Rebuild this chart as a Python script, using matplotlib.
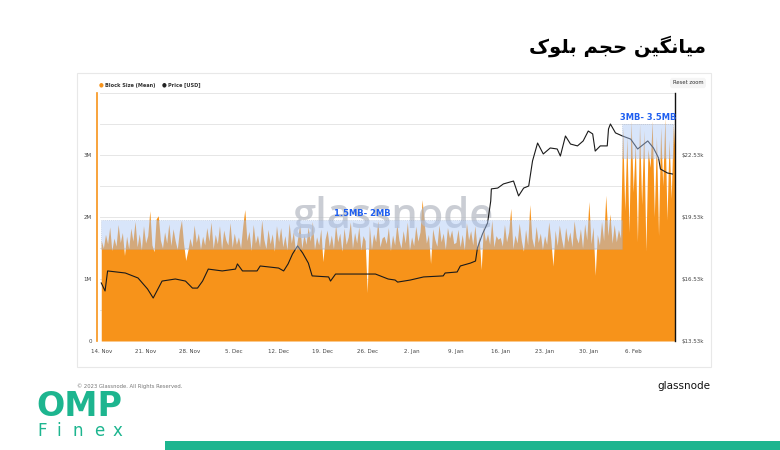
import numpy as np
import matplotlib.pyplot as plt
from matplotlib.patches import Rectangle

# block size (mean), MB, three samples per day starting 14 Nov
block_size = [
    1.62,1.50,1.72, 1.57,1.84,1.46, 1.66,1.53,1.88, 1.59,1.75,1.38, 1.69,1.49,1.82, 1.61,1.93,1.52, 1.73,1.47,1.86,
    1.58,1.70,2.10, 1.55,1.44,1.97, 2.02,1.63,1.50, 1.76,1.58,1.89, 1.54,1.81,1.62, 1.48,1.78,1.95, 1.57,1.30,1.46,
    1.66,1.52,1.87, 1.59,1.74,1.48, 1.69,1.55,1.83, 1.61,1.92,1.49, 1.72,1.57,1.86, 1.48,1.79,1.63, 1.55,1.91,1.51,
    1.74,1.56,1.68, 1.50,1.85,2.12, 1.62,1.77,1.46, 1.88,1.58,1.71, 1.52,1.95,1.64, 1.49,1.80,1.57, 1.73,1.45,1.86,
    1.60,1.83,1.52, 1.70,1.47,1.90, 1.58,1.76,1.45, 1.65,1.88,1.50, 1.72,1.56,1.84, 1.61,1.93,1.48, 1.68,1.55,1.81,
    1.28,1.64,1.79, 1.53,1.71,1.49, 1.87,1.60,1.74, 1.45,1.82,1.56, 1.68,1.92,1.50, 1.75,1.58,1.84, 1.47,1.70,1.62,
    0.78,1.86,1.48, 1.73,1.60,1.94, 1.52,1.66,1.69, 1.57,1.83,1.46, 1.71,1.55,1.89, 1.63,1.50,1.78, 1.58,1.92,1.47,
    1.68,1.54,1.85, 1.61,1.76,2.28, 1.90,1.58,1.72, 1.25,1.81,1.64, 1.53,1.87,1.60, 1.74,1.48,1.83, 1.66,1.79,1.57,
    1.59,1.80,1.52, 1.72,1.47,1.91, 1.63,1.78,1.55, 1.86,1.50,1.69, 1.15,1.84,1.61, 1.73,1.56,1.95, 1.52,1.70,1.64,
    1.67,1.53,1.88, 1.60,1.76,2.14, 1.49,1.71,1.58, 1.90,1.62,1.45, 1.80,1.55,2.20, 1.66,1.51,1.85, 1.59,1.74,1.48,
    1.70,1.56,1.92, 1.62,1.21,1.79, 1.54,1.87,1.65, 1.49,1.83,1.60, 1.76,1.52,1.94, 1.67,1.58,1.81, 1.50,1.89,1.63,
    2.25,1.57,1.84, 1.06,1.72,1.55, 1.93,1.62,2.35, 1.70,2.05,1.58, 1.88,1.60,1.80, 1.66,3.45,2.10, 3.30,1.75,3.55,
    2.40,3.20,1.60, 3.50,2.20,3.40, 1.45,3.10,2.80, 3.55,2.00,3.30, 1.70,3.45,2.50, 3.60,1.95,3.25, 2.30,3.50,2.90,
]
samples_per_day = 3

# BTC price, days since 14 Nov and USD thousands
price_day = [0, 0.6, 1.0, 3.8, 5.8, 7.3, 8.2, 9.6, 11.7, 13.3, 14.4, 15.2, 16.0, 16.9, 19.1, 21.2, 21.5,
             22.3, 24.6, 25.1, 28.0, 28.8, 29.5, 30.2, 31.0, 31.8, 32.7, 33.3, 35.9, 36.2, 37.0, 43.3,
             45.3, 46.4, 46.8, 48.8, 50.9, 54.0, 54.3, 56.2, 56.7, 58.3, 59.1, 59.4, 60.2, 61.0, 61.5,
             61.6, 62.6, 63.5, 65.1, 65.9, 66.7, 67.5, 68.1, 68.9, 69.8, 70.9, 72.0, 72.5, 73.3, 74.1,
             75.2, 76.1, 76.9, 77.6, 78.0, 78.8, 79.9, 80.1, 80.4, 81.2, 82.3, 83.6, 84.7, 86.3, 87.2,
             88.0, 88.3, 89.4, 90.2]
price_k = [16.34, 15.95, 16.92, 16.82, 16.58, 16.05, 15.61, 16.43, 16.53, 16.43, 16.09, 16.09, 16.43, 17.01,
           16.92, 17.01, 17.26, 16.92, 16.92, 17.16, 17.06, 16.92, 17.26, 17.74, 18.13, 17.79, 17.30, 16.68,
           16.63, 16.43, 16.77, 16.77, 16.53, 16.48, 16.38, 16.48, 16.63, 16.68, 16.82, 16.87, 17.16, 17.30,
           17.40, 18.03, 18.71, 19.24, 20.30, 20.89, 20.93, 21.13, 21.27, 20.55, 20.93, 21.03, 22.24, 23.11,
           22.58, 22.87, 22.82, 22.48, 23.45, 23.06, 22.97, 23.21, 23.69, 23.55, 22.72, 22.97, 22.97, 23.79,
           24.03, 23.60, 23.45, 23.30, 22.82, 23.21, 22.87, 22.39, 21.85, 21.66, 21.61]

tick_days = [0, 7, 14, 21, 28, 35, 42, 49, 56, 63, 70, 77, 84]
tick_labels = ["14. Nov", "21. Nov", "28. Nov", "5. Dec", "12. Dec", "19. Dec", "26. Dec",
               "2. Jan", "9. Jan", "16. Jan", "23. Jan", "30. Jan", "6. Feb"]
left_ticks = [0, 1, 2, 3]
left_labels = ["0", "1M", "2M", "3M"]
right_ticks = [13.53, 16.53, 19.53, 22.53]
right_labels = ["$13.53k", "$16.53k", "$19.53k", "$22.53k"]

# highlighted ranges: (start day, end day, low MB, high MB, label)
ranges = [(0, 82.3, 1.48, 1.95, "1.5MB- 2MB"), (82.3, 90.3, 2.95, 3.5, "3MB- 3.5MB")]

orange = "#f7931a"
teal = "#1db58f"
title_fa = "میانگین حجم بلوک"
# joined letter forms of the title, in reading order (right to left)
title_forms = ["\ufee3", "\ufef4", "\ufe8e", "\ufee7", "\ufb95", "\ufef4", "\ufee6", " ",
               "\ufea3", "\ufea0", "\ufee2", " ",
               "\ufe91", "\ufee0", "\ufeee", "\ufb8e"]

fig = plt.figure(figsize=(7.8, 4.5), dpi=100)
W, H = 780, 450

# outer card and footer bar
fig.patches.append(Rectangle((77 / W, 1 - 367 / H), 634 / W, 294 / H, transform=fig.transFigure,
                             facecolor="white", edgecolor="#e8e8e8", lw=0.8, zorder=-2))
fig.patches.append(Rectangle((165 / W, 0), 615 / W, 9 / H, transform=fig.transFigure,
                             facecolor=teal, edgecolor="none", zorder=-2))

ax = fig.add_axes([100 / W, 1 - 341 / H, 575 / W, 248 / H])
ax.set_facecolor("none")
t = np.arange(len(block_size)) / samples_per_day
ax.fill_between(t, 0, block_size, color=orange, lw=0, zorder=2)
ax.set_ylim(0, 4)
ax.set_yticks([0, 0.5, 1, 1.5, 2, 2.5, 3, 3.5, 4])
ax.set_yticklabels(["0", "", "1M", "", "2M", "", "3M", "", ""])
ax.grid(axis="y", color="#e6e6e6", lw=0.7, zorder=0)
ax.set_axisbelow(True)
ax.set_xticks(tick_days)
ax.set_xticklabels(tick_labels)
ax.tick_params(axis="both", length=0, labelsize=4, labelcolor="#444444", pad=4)
ax.tick_params(axis="x", pad=6)
for s in ["top", "right", "bottom"]:
    ax.spines[s].set_visible(False)
ax.spines["left"].set_color(orange)
ax.spines["left"].set_linewidth(1.2)
ax.spines["left"].set_position(("outward", 2))

# watermark sits under the price line and the highlight boxes
ax.text(0.51, 0.50, "glassnode", transform=ax.transAxes, fontsize=30, color="#b4b9c2", alpha=0.7,
        ha="center", va="center", family="Open Sans", fontweight="semibold", zorder=3)

ax2 = ax.twinx()
ax2.plot(price_day, price_k, color="#1a1a1a", lw=0.8, zorder=3)
ax2.set_yticks(right_ticks)
ax2.set_yticklabels(right_labels)
ax2.tick_params(axis="y", length=0, labelsize=4, labelcolor="#444444", pad=5)
for s in ["top", "left", "bottom"]:
    ax2.spines[s].set_visible(False)
ax2.spines["right"].set_color("#111111")
ax2.spines["right"].set_linewidth(1.0)

for x0, x1, lo, hi, label in ranges:
    ax2.add_patch(Rectangle((x0, lo), x1 - x0, hi - lo, transform=ax.transData,
                            facecolor="#a9c6f5", alpha=0.45, edgecolor="#8f9fbd",
                            ls=(0, (1.5, 1.5)), lw=0.5, zorder=5))
    ax2.text((x0 + x1) / 2, hi + 0.04, label, transform=ax.transData, ha="center", va="bottom",
             color="#1f5ff0", fontsize=6, fontweight="bold", zorder=6)
ax2.set_ylim(13.53, 25.53)
ax.set_xlim(-0.2, 90.6)

# legend
fig.text(101 / W, 1 - 85 / H, "\u25cf", color=orange, fontsize=4, ha="center", va="center")
fig.text(105 / W, 1 - 85 / H, "Block Size (Mean)", color="#333333", fontsize=3.6, va="center",
         fontweight="bold")
fig.text(164 / W, 1 - 85 / H, "\u25cf", color="#222222", fontsize=4, ha="center", va="center")
fig.text(168 / W, 1 - 85 / H, "Price [USD]", color="#333333", fontsize=3.6, va="center",
         fontweight="bold")
fig.text(688 / W, 1 - 83 / H, "Reset zoom", color="#333333", fontsize=3.8, ha="center", va="center",
         bbox=dict(boxstyle="round,pad=0.5", facecolor="#f5f5f5", edgecolor="none"))

# title
fig.text(706 / W, 1 - 46 / H, "".join(reversed(title_forms)), fontsize=14, fontweight="bold",
         ha="right", va="center", color="black", family=["DejaVu Sans"])

# footer
fig.text(77 / W, 1 - 386 / H, "\u00a9 2023 Glassnode. All Rights Reserved.", fontsize=3.8,
         color="#777777", va="center")
fig.text(710 / W, 1 - 386 / H, "glassnode", fontsize=7.5, color="#111111", ha="right", va="center")
fig.text(36 / W, 1 - 406 / H, "OMP", fontsize=24, fontweight="bold", color=teal, va="center",
         family="DejaVu Sans")
for letter, lx in zip("Finex", [37, 56, 73, 94, 113]):
    fig.text(lx / W, 1 - 431 / H, letter, fontsize=12, color=teal, va="center",
             family="DejaVu Sans")

fig.savefig("out.png", dpi=100)
